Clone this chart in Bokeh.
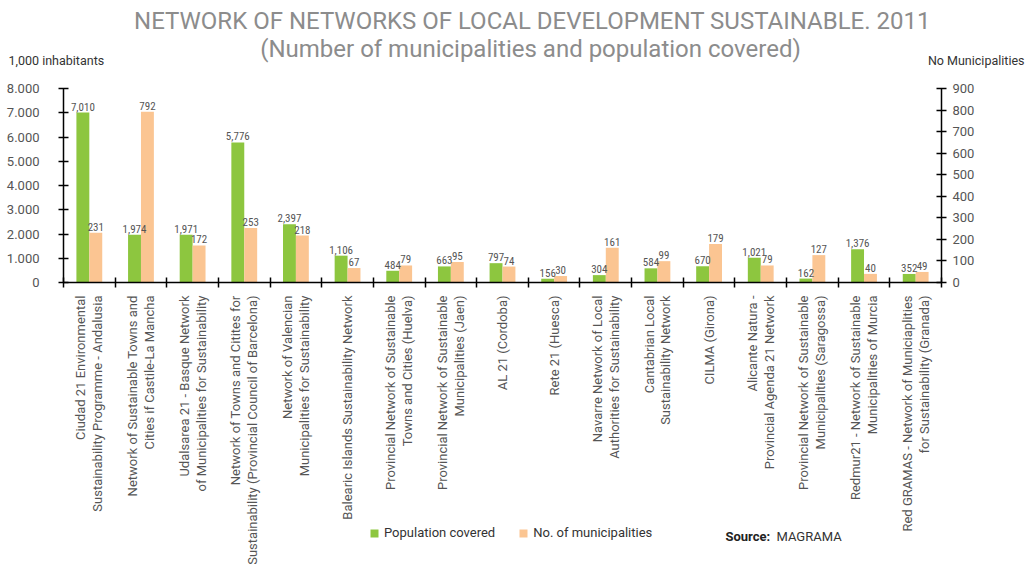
import math
from bokeh.plotting import figure
from bokeh.models import (ColumnDataSource, Range1d, LinearAxis, FixedTicker, CustomJSTickFormatter,
                          LabelSet, Label, Legend, LegendItem)
from bokeh.transform import dodge
from bokeh.core.properties import value
from bokeh.embed import file_html
from bokeh.resources import INLINE

categories = [
    "Ciudad 21 Environmental\nSustainability Programme - Andalusia",
    "Network of Sustainable Towns and\nCities if Castile-La Mancha",
    "Udalsarea 21 - Basque Network\nof Municipalities for Sustainability",
    "Network of Towns and Citites for\nSustainability (Provincial Council of Barcelona)",
    "Network of Valencian\nMunicipalities for Sustainability",
    "Balearic Islands Sustainability Network",
    "Provincial Network of Sustainable\nTowns and Cities (Huelva)",
    "Provincial Network of Sustainable\nMunicipalities (Jaen)",
    "AL 21 (Cordoba)",
    "Rete 21 (Huesca)",
    "Navarre Network of Local\nAuthorities for Sustainability",
    "Cantabrian Local\nSustainability Network",
    "CILMA (Girona)",
    "Alicante Natura -\nProvincial Agenda 21 Network",
    "Provincial Network of Sustainable\nMunicipalities (Saragossa)",
    "Redmur21 - Network of Sustainable\nMunicipalities of Murcia",
    "Red GRAMAS - Network of Municiaplities\nfor Sustainability (Granada)",
]
population = [7010, 1974, 1971, 5776, 2397, 1106, 484, 663, 797, 156, 304, 584, 670, 1021, 162, 1376, 352]
municipalities = [231, 792, 172, 253, 218, 67, 79, 95, 74, 30, 161, 99, 179, 79, 127, 40, 49]
left_ticks = [0, 1000, 2000, 3000, 4000, 5000, 6000, 7000, 8000]
right_ticks = [0, 100, 200, 300, 400, 500, 600, 700, 800, 900]

GREEN = "#8dc63f"
PEACH = "#fbc592"
TXT = "#555555"
FONT = "Roboto"
NARROW = "Liberation Sans Narrow, Roboto Condensed, DejaVu Sans Condensed, sans-serif"

# layout (page pixels; the canvas covers the whole page)
W, H = 1032, 564
A_LEFT, A_RIGHT = 63, 941          # page x of the two value axes
ZERO_Y, TOP_Y = 282, 88            # page y of value 0 and of the top tick
n = len(categories)
ppx = (A_RIGHT - A_LEFT) / n       # pixels per category
ppu = (ZERO_Y - TOP_Y) / left_ticks[-1]
x_start, x_end = -A_LEFT / ppx, n + (W - A_RIGHT) / ppx
y_start, y_end = -(H - ZERO_Y) / ppu, ZERO_Y / ppu
k = right_ticks[-1] / left_ticks[-1]


def dx(px):
    return (px - A_LEFT) / ppx


def dy(py):
    return (ZERO_Y - py) / ppu


centers = [i + 0.5 for i in range(n)]
src = ColumnDataSource(dict(
    x=centers,
    pop=population,
    muni=municipalities,
    pop_txt=[f"{v:,}" for v in population],
    muni_txt=[f"{v:,}" for v in municipalities],
))

p = figure(width=W, height=H, output_backend="svg", toolbar_location=None, title=None,
           x_range=Range1d(x_start, x_end), y_range=Range1d(y_start, y_end),
           min_border_left=0, min_border_right=0, min_border_top=0, min_border_bottom=0)
p.extra_y_ranges = {"right": Range1d(y_start * k, y_end * k)}
p.outline_line_color = None
p.xgrid.visible = False
p.ygrid.visible = False
p.background_fill_color = "white"
p.border_fill_color = "white"

r1 = p.vbar(x=dodge("x", -0.125), top="pop", width=0.25, source=src, fill_color=GREEN, line_color=None)
r2 = p.vbar(x=dodge("x", 0.125), top="muni", width=0.25, source=src, fill_color=PEACH, line_color=None,
            y_range_name="right")

# x axis, drawn at value 0
xa = p.xaxis[0]
xa.fixed_location = 0
xa.bounds = (0, n)
xa.ticker = FixedTicker(ticks=centers, minor_ticks=list(range(n + 1)))
xa.formatter = CustomJSTickFormatter(args=dict(names=categories), code="return names[Math.round(tick - 0.5)];")
xa.major_label_orientation = math.pi / 2
xa.major_tick_in = 0
xa.major_tick_out = 0
xa.minor_tick_in = 5
xa.minor_tick_out = 5
xa.minor_tick_line_color = "black"
xa.minor_tick_line_width = 1.5
xa.axis_line_color = "black"
xa.axis_line_width = 1.5
xa.major_label_standoff = 8
xa.major_label_text_font = FONT
xa.major_label_text_font_size = "13px"
xa.major_label_text_color = TXT
xa.major_label_text_line_height = 1.12

# left axis
ya = p.yaxis[0]
ya.fixed_location = 0
ya.bounds = (0, left_ticks[-1])
ya.ticker = FixedTicker(ticks=left_ticks)
ya.major_label_overrides = {t: f"{t:,}".replace(",", ".") for t in left_ticks}
ya.minor_tick_line_color = None
ya.major_tick_in = 5
ya.major_tick_out = 5
ya.major_tick_line_color = "black"
ya.major_tick_line_width = 1.5
ya.axis_line_color = "black"
ya.axis_line_width = 1.5
ya.major_label_standoff = 19
ya.major_label_text_font = FONT
ya.major_label_text_font_size = "13px"
ya.major_label_text_color = TXT

# right axis
ra = LinearAxis(y_range_name="right", ticker=FixedTicker(ticks=right_ticks), bounds=(0, right_ticks[-1]),
                fixed_location=n)
ra.minor_tick_line_color = None
ra.major_tick_in = 5
ra.major_tick_out = 5
ra.major_tick_line_color = "black"
ra.major_tick_line_width = 1.5
ra.axis_line_color = "black"
ra.axis_line_width = 1.5
ra.major_label_standoff = 6
ra.major_label_text_font = FONT
ra.major_label_text_font_size = "13px"
ra.major_label_text_color = TXT
p.add_layout(ra, "right")

# value labels
common = dict(source=src, y_offset=2, text_align="center", text_baseline="bottom",
              text_font=value(NARROW), text_font_size="11px", text_color=TXT)
p.add_layout(LabelSet(x=dodge("x", -0.125), y="pop", text="pop_txt", **common))
p.add_layout(LabelSet(x=dodge("x", 0.125), y="muni", text="muni_txt", y_range_name="right", **common))

# titles and side texts
TITLE_C = "#8c8c8c"


def text_at(px, py, txt, size, color, align="left", style="normal"):
    p.add_layout(Label(x=dx(px), y=dy(py), text=txt, text_align=align, text_baseline="middle",
                       text_font=FONT, text_font_size=size, text_color=color, text_font_style=style))


text_at(532, 20, "NETWORK OF NETWORKS OF LOCAL DEVELOPMENT SUSTAINABLE. 2011", "24px", TITLE_C, "center")
text_at(530, 48, "(Number of municipalities and population covered)", "24px", TITLE_C, "center")
text_at(8, 60, "1,000 inhabitants", "12.5px", "#333333")
text_at(1024, 60, "No Municipalities", "12.5px", "#333333", "right")
text_at(725, 536, "Source:", "13px", "#222222", "left", "bold")
text_at(776, 536, "MAGRAMA", "13px", "#333333")

legend = Legend(items=[LegendItem(label="Population covered", renderers=[r1]),
                       LegendItem(label="No. of municipalities", renderers=[r2])],
                location=(369, H - 540), orientation="horizontal", glyph_width=10, glyph_height=10,
                label_standoff=5, spacing=23, padding=0, margin=0,
                label_text_font=FONT, label_text_font_size="13px", label_text_color="#333333",
                background_fill_alpha=0, border_line_alpha=0)
p.add_layout(legend)

open("out.html", "w").write(file_html(p, INLINE))
